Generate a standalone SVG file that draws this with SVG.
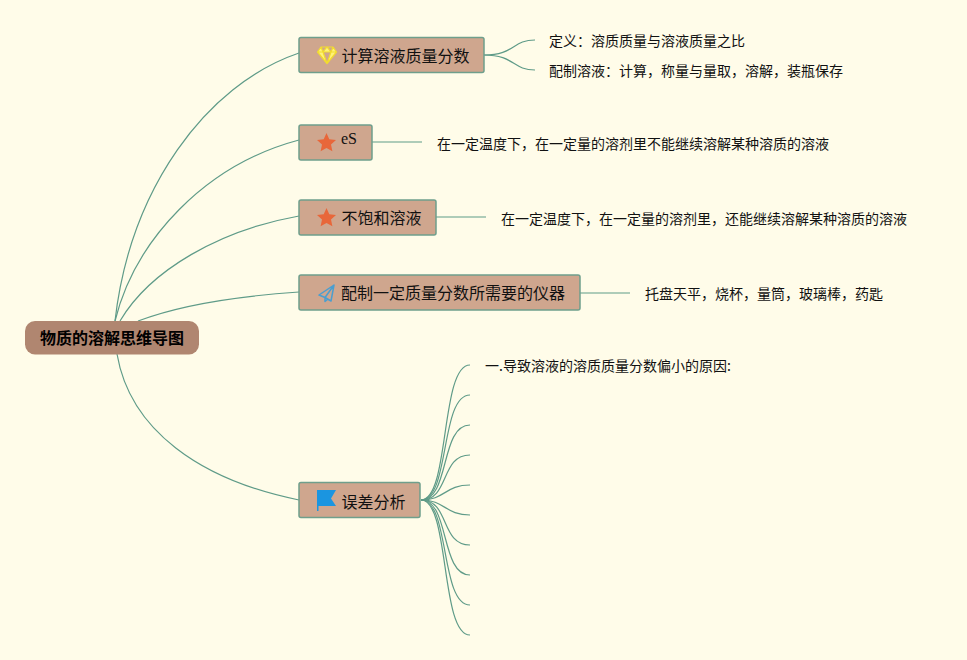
<svg xmlns="http://www.w3.org/2000/svg" width="967" height="660" viewBox="0 0 967 660">
<style>
text{font-family:"Noto Sans CJK SC","Liberation Sans",sans-serif;fill:#111}
.n{fill:#cfa68e;stroke:#6f9f8c;stroke-width:1.5}
.t{font-size:16px}
.s{font-size:14px}
#connectors path{fill:none;stroke:#5f9b88;stroke-width:1.200}
</style>
<rect width="967" height="660" fill="#fffce9"/>
<g id="connectors">
<path d="M115 321C130 190 205 85 299 53"/>
<path d="M115 321C135 240 205 165 299 140"/>
<path d="M120 321C150 270 220 230 299 216"/>
<path d="M138 321C180 305 240 296 299 292"/>
<path d="M117 354C130 430 200 480 299 500"/>
<path d="M484 55C515 55 512 40 535 40"/>
<path d="M484 55C515 55 512 70 535 70"/>
<path d="M372 142H422"/>
<path d="M436 217H486"/>
<path d="M580 293H630"/>
<path d="M421 500C450 500 440 365 470 365"/>
<path d="M421 500C450 500 440 395 470 395"/>
<path d="M421 500C450 500 440 425 470 425"/>
<path d="M421 500C450 500 440 455 470 455"/>
<path d="M421 500C445 500 445 485 470 485"/>
<path d="M421 500C445 500 445 515 470 515"/>
<path d="M421 500C450 500 440 545 470 545"/>
<path d="M421 500C450 500 440 575 470 575"/>
<path d="M421 500C450 500 440 605 470 605"/>
<path d="M421 500C450 500 440 635 470 635"/>
</g>
<g id="root"><rect x="25" y="321" width="174" height="33.500" rx="10" fill="#b08670"/><text x="112" y="344" text-anchor="middle" font-size="16" font-weight="700" style="fill:#000">物质的溶解思维导图</text></g>
<g id="node1"><rect class="n" x="299" y="37.500" width="185" height="35" rx="2"/>
<path d="M321 47H333L336.500 52L327 63.500L317.500 52Z M317.500 52H336.500 M323 52L327 63.500L331 52 M321 47L323 52L327 47L331 52L333 47" fill="#fff27a" stroke="#f2dc2e" stroke-width="1.200" stroke-linejoin="round"/>
<text class="t" x="341.500" y="62">计算溶液质量分数</text></g>
<g id="leaf1a"><text class="s" x="549" y="46">定义：溶质质量与溶液质量之比</text></g>
<g id="leaf1b"><text class="s" x="549" y="76">配制溶液：计算，称量与量取，溶解，装瓶保存</text></g>
<g id="node2"><rect class="n" x="299" y="125" width="73" height="35" rx="2"/>
<path d="M326.500 133L329.300 139.200 336 140 331 144.600 332.400 151.300 326.500 148 320.600 151.300 322 144.600 317 140 323.700 139.200Z" fill="#e8673a"/>
<text x="341" y="144" font-size="16" style="font-family:'Liberation Serif',serif">eS</text></g>
<g id="leaf2"><text class="s" x="437" y="149">在一定温度下，在一定量的溶剂里不能继续溶解某种溶质的溶液</text></g>
<g id="node3"><rect class="n" x="299" y="200" width="137" height="35" rx="2"/>
<path d="M326.500 208L329.300 214.200 336 215 331 219.600 332.400 226.300 326.500 223 320.600 226.300 322 219.600 317 215 323.700 214.200Z" fill="#e8673a"/>
<text class="t" x="341.500" y="224">不饱和溶液</text></g>
<g id="leaf3"><text class="s" x="501" y="224">在一定温度下，在一定量的溶剂里，还能继续溶解某种溶质的溶液</text></g>
<g id="node4"><rect class="n" x="299" y="275" width="281" height="35" rx="2"/>
<path d="M334 285L319 295L325 297.500Z M334 285L325 297.500L331 301Z M325 297.500V301.500L328 299" fill="none" stroke="#4a9ed0" stroke-width="1.500" stroke-linejoin="round"/>
<text class="t" x="341" y="299">配制一定质量分数所需要的仪器</text></g>
<g id="leaf4"><text class="s" x="645" y="299">托盘天平，烧杯，量筒，玻璃棒，药匙</text></g>
<g id="node5"><rect class="n" x="299" y="482.500" width="121" height="35" rx="2"/>
<path d="M317 490H336L331 498.500L336 506H318.500V511H317Z" fill="#1b95e0"/>
<text class="t" x="341.500" y="508">误差分析</text></g>
<g id="leaf5"><text class="s" x="485" y="371">一.导致溶液的溶质质量分数偏小的原因:</text></g>
</svg>
